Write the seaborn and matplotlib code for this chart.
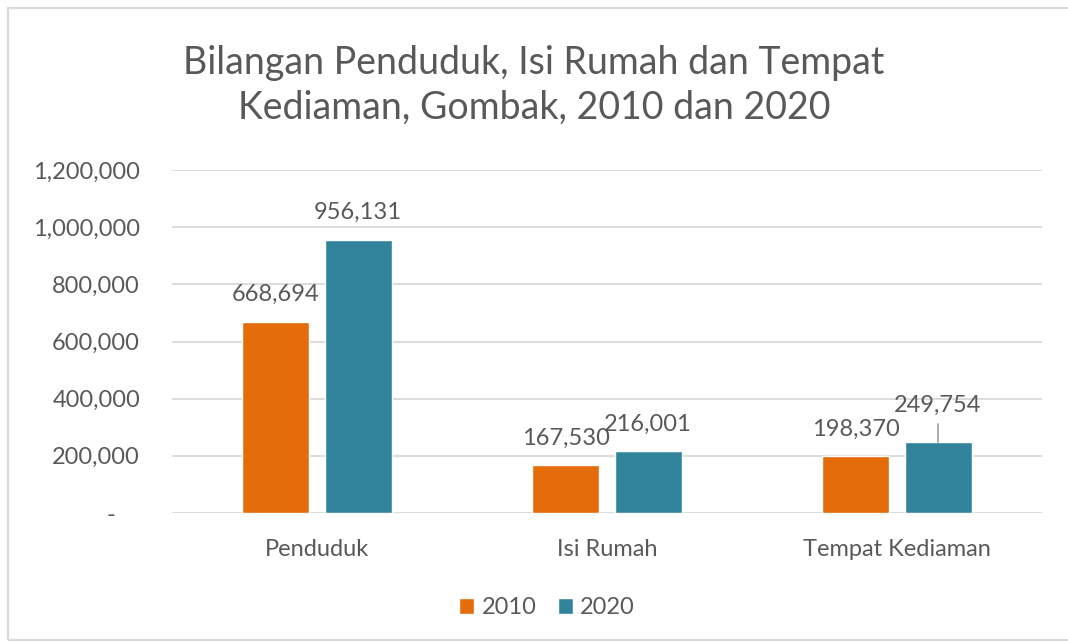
import matplotlib
matplotlib.use("Agg")
import matplotlib.pyplot as plt
import matplotlib.ticker as mticker
import pandas as pd
import seaborn as sns

# data
kategori = ["Penduduk", "Isi Rumah", "Tempat Kediaman"]
tahun = ["2010", "2020"]
nilai_2010 = [668694, 167530, 198370]
nilai_2020 = [956131, 216001, 249754]
yticks = [0, 200000, 400000, 600000, 800000, 1000000, 1200000]

warna = {"2010": "#E46C0A", "2020": "#31849B"}
kelabu = "#595959"

dados = pd.DataFrame({
    "kategori": kategori * 2,
    "tahun": ["2010"] * 3 + ["2020"] * 3,
    "nilai": nilai_2010 + nilai_2020,
})

sns.set_style("white")
plt.rcParams["font.family"] = ["Lato", "DejaVu Sans"]

fig = plt.figure(figsize=(10.68, 6.42), dpi=100)
ax = fig.add_axes([172 / 1068, 1 - 513 / 642, 870 / 1068, 343 / 642])

sns.barplot(data=dados, x="kategori", y="nilai", hue="tahun", order=kategori,
            hue_order=tahun, palette=warna, width=0.566, gap=0.184,
            saturation=1, ax=ax, legend=True)

ax.set_xlim(-0.5, 2.5)
ax.set_ylim(0, 1200000)
ax.set_yticks(yticks)
ax.yaxis.set_major_formatter(mticker.FuncFormatter(
    lambda v, p: "-    " if v == 0 else f"{int(v):,}"))
ax.grid(axis="y", color="#D9D9D9", linewidth=1.3)
ax.set_axisbelow(True)
for s in ax.spines.values():
    s.set_visible(False)
ax.tick_params(axis="both", length=0, labelsize=17, labelcolor=kelabu)
ax.tick_params(axis="y", pad=23)
ax.tick_params(axis="x", pad=19)
ax.set_xlabel("")
ax.set_ylabel("")

# data labels
for cont, th in zip(ax.containers, tahun):
    for i, bar in enumerate(cont):
        v = bar.get_height()
        x = bar.get_x() + bar.get_width() / 2
        dy = 12
        if th == "2020" and i == 2:
            # Excel moved this label up and drew a leader line
            dy = 18.5
            ax.plot([x, x], [v, v + 60000], color="#A6A6A6", lw=1.3, zorder=3)
        ax.annotate(f"{int(v):,}", xy=(x, v), xytext=(0, dy),
                    textcoords="offset points", ha="center", va="bottom",
                    fontsize=17, color=kelabu)

handles, labels = ax.get_legend_handles_labels()
ax.get_legend().remove()
fig.legend(handles, labels, loc="center", bbox_to_anchor=(547 / 1068, 1 - 608 / 642),
           ncol=2, frameon=False, fontsize=17, labelcolor=kelabu,
           handlelength=0.65, handleheight=0.65, handletextpad=0.3, columnspacing=0.9)

fig.text(0.5, 1 - 85 / 642, "Bilangan Penduduk, Isi Rumah dan Tempat\nKediaman, Gombak, 2010 dan 2020",
         ha="center", va="center", fontsize=27, color=kelabu, linespacing=1.3)

fig.patches.append(plt.Rectangle((8 / 1068, 2 / 642), 1.2, 1 - 10 / 642,
                                 transform=fig.transFigure, fill=False,
                                 edgecolor="#D9D9D9", linewidth=1.5))

fig.savefig("out.png", dpi=100)
